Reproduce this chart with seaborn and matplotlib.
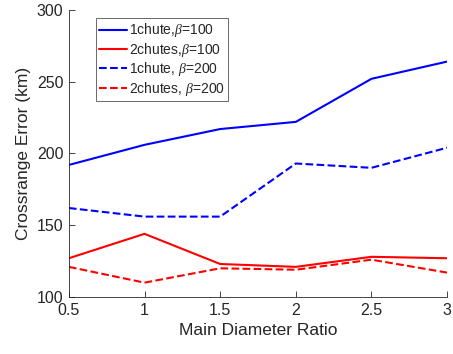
import matplotlib
matplotlib.use("Agg")
import matplotlib.pyplot as plt
import seaborn as sns
import pandas as pd

# Main parachute diameter ratio (x axis)
diameter_ratio = [0.5, 1.0, 1.5, 2.0, 2.5, 3.0]

# Crossrange error (km) for each configuration
one_chute_b100 = [192, 206, 217, 222, 252, 264]
two_chutes_b100 = [127, 144, 123, 121, 128, 127]
one_chute_b200 = [162, 156, 156, 193, 190, 204]
two_chutes_b200 = [121, 110, 120, 119, 126, 117]

labels = [r"1chute,$\beta$=100", r"2chutes,$\beta$=100",
          r"1chute, $\beta$=200", r"2chutes, $\beta$=200"]
series = [one_chute_b100, two_chutes_b100, one_chute_b200, two_chutes_b200]
colors = ["#0000ff", "#ff0000", "#0000ff", "#ff0000"]
styles = ["-", "-", "--", "--"]

sns.set_style("white")
plt.rcParams["font.family"] = ["Liberation Sans", "DejaVu Sans"]
plt.rcParams["mathtext.fontset"] = "custom"
plt.rcParams["mathtext.it"] = "Liberation Serif:italic"

fig = plt.figure(figsize=(4.53, 3.54), dpi=100)
ax = fig.add_axes([0.152, 0.161, 0.835, 0.811])

for lab, vals, c, ls in zip(labels, series, colors, styles):
    df = pd.DataFrame({"ratio": diameter_ratio, "err": vals})
    sns.lineplot(data=df, x="ratio", y="err", ax=ax, color=c, linestyle=ls,
                 linewidth=1.5, label=lab)

ax.set_xlim(0.5, 3)
ax.set_ylim(100, 300)
ax.set_xticks([0.5, 1, 1.5, 2, 2.5, 3])
ax.set_xticklabels(["0.5", "1", "1.5", "2", "2.5", "3"])
ax.set_yticks([100, 150, 200, 250, 300])
ax.set_xlabel("Main Diameter Ratio", fontsize=12.5, color="#262626")
ax.set_ylabel("Crossrange Error (km)", fontsize=12.5, color="#262626")
ax.tick_params(axis="both", which="major", direction="in", length=4,
               width=0.6, labelsize=11.5, colors="#262626", pad=4,
               bottom=True, left=True)
for side in ["top", "right"]:
    ax.spines[side].set_visible(False)
for side in ["left", "bottom"]:
    ax.spines[side].set_color("#262626")
    ax.spines[side].set_linewidth(0.6)

leg = ax.legend(loc="upper left", bbox_to_anchor=(0.071, 0.972), fontsize=10,
                frameon=True, fancybox=False, handlelength=2.0,
                handletextpad=0.15, borderpad=0.25, labelspacing=0.1,
                borderaxespad=0)
leg.get_frame().set_edgecolor("#262626")
leg.get_frame().set_linewidth(0.6)

fig.savefig("out.png", dpi=100)
